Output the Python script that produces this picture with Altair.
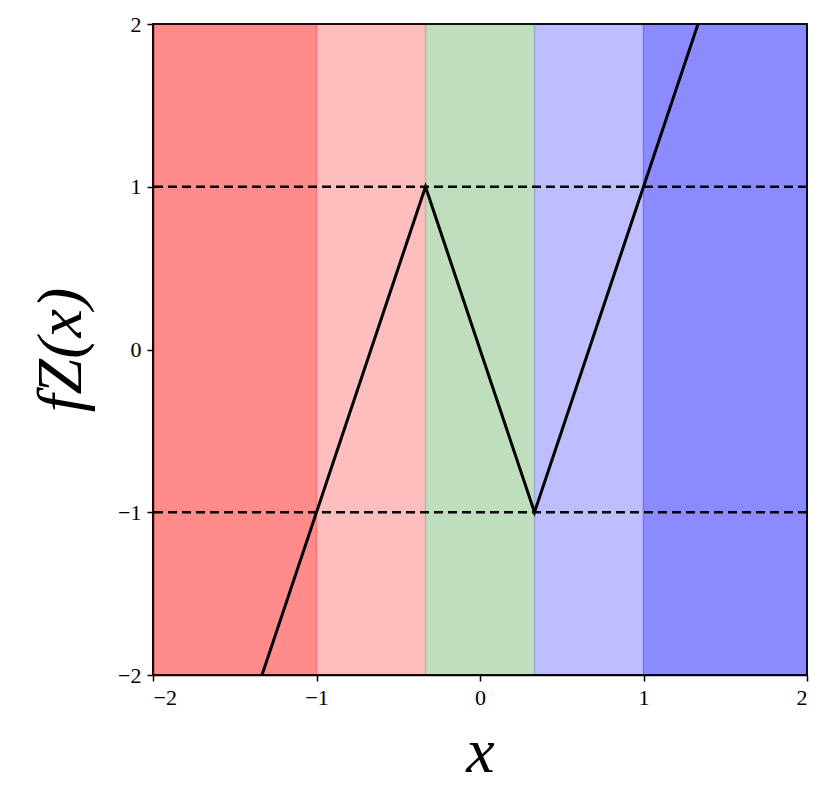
import altair as alt
import pandas as pd

band_start = [-2, -1, -1/3, 1/3, 1]
band_end = [-1, -1/3, 1/3, 1, 2]
band_color = ["#ff0000", "#ff0000", "#008000", "#0000ff", "#0000ff"]
band_alpha = [0.45, 0.25, 0.25, 0.25, 0.45]

line_x = [-4/3, -1/3, 1/3, 4/3]
line_y = [-2, 1, -1, 2]

hline_y = [1, -1]

x_ticks = [-2, -1, 0, 1, 2]
y_ticks = [-2, -1, 0, 1, 2]

bands = pd.DataFrame({"x0": band_start, "x1": band_end, "c": band_color, "a": band_alpha})
line_df = pd.DataFrame({"x": line_x, "y": line_y})
h_df = pd.DataFrame({"y": hline_y})
frame_df = pd.DataFrame({"x0": [x_ticks[0]], "x1": [x_ticks[-1]],
                         "y0": [y_ticks[0]], "y1": [y_ticks[-1]]})

FONT = "Liberation Serif"
xs = alt.Scale(domain=[-2, 2], nice=False, zero=False)
ys = alt.Scale(domain=[-2, 2], nice=False, zero=False)

common = dict(format="d", labelExpr="replace(datum.label, '-', '\u2212')",
              labelFont=FONT, labelFontSize=22, labelPadding=6,
              titleFont=FONT, titleFontStyle="italic", titleFontSize=64,
              titleFontWeight="normal")
xaxis = alt.Axis(values=x_ticks, title="x", titlePadding=12, **common)
yaxis = alt.Axis(values=y_ticks, title="fZ(x)", titlePadding=24, **common)

rects = alt.Chart(bands).mark_rect(strokeWidth=1.5).encode(
    x=alt.X("x0:Q", scale=xs, axis=xaxis),
    x2="x1:Q",
    y=alt.value(0),
    y2=alt.value(651),
    color=alt.Color("c:N", scale=None),
    stroke=alt.Color("c:N", scale=None),
    opacity=alt.Opacity("a:Q", scale=None),
    strokeOpacity=alt.value(0.8),
)

hlines = alt.Chart(h_df).mark_rule(color="black", strokeWidth=2.5, strokeDash=[9, 5]).encode(
    y=alt.Y("y:Q", scale=ys, axis=yaxis),
)

line = alt.Chart(line_df).mark_line(color="black", strokeWidth=3, clip=True).encode(
    x=alt.X("x:Q", scale=xs, axis=xaxis),
    y=alt.Y("y:Q", scale=ys, axis=yaxis),
)

frame = alt.Chart(frame_df).mark_rect(fill=None, fillOpacity=0, stroke="black",
                                      strokeWidth=1.5).encode(
    x=alt.X("x0:Q", scale=xs, axis=xaxis),
    x2="x1:Q",
    y=alt.Y("y0:Q", scale=ys, axis=yaxis),
    y2="y1:Q",
)

chart = alt.layer(rects, hlines, line, frame).properties(
    width=654, height=651,
    background="white",
    padding={"left": 21, "top": 5, "right": 5, "bottom": 5},
).configure_view(stroke="black", strokeWidth=1.5).configure_axis(
    tickSize=6, tickColor="black", domainColor="black", domainWidth=1.5, tickWidth=1.5,
    grid=False, labelColor="black", titleColor="black",
)

chart.save("out.html", embed_options={"renderer": "svg", "actions": False})
